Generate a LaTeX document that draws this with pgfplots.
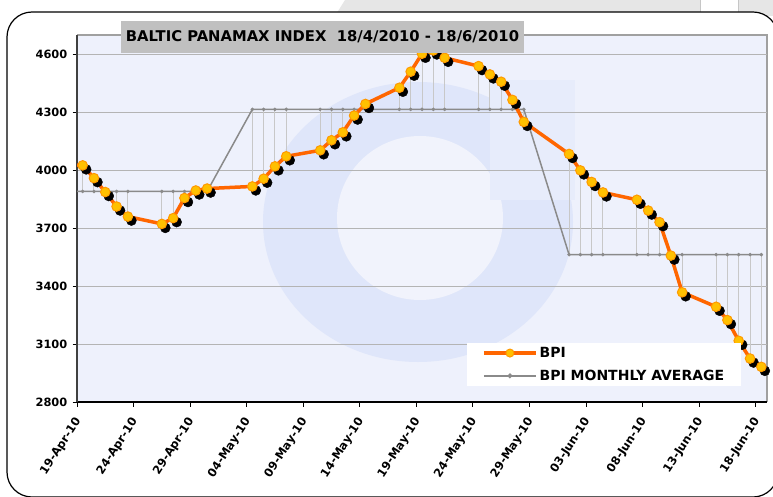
\documentclass[border=0pt]{standalone}
\usepackage{fontspec}
\setmainfont{DejaVu Sans}
\usepackage{pgfplots}
\pgfplotsset{compat=1.18}
\usepackage{pgfplotstable}

\definecolor{bgplot}{HTML}{EEF1FC}
\definecolor{wm}{HTML}{DFE6FA}
\definecolor{wminner}{HTML}{F1F3FC}
\definecolor{bpiline}{HTML}{FF6600}
\definecolor{bpifill}{HTML}{FFC000}
\definecolor{bpiedge}{HTML}{FF9900}
\definecolor{avgline}{HTML}{8A8A8A}
\definecolor{hl}{HTML}{C8C8C8}
\definecolor{gridc}{HTML}{B4B4B4}
\definecolor{pagegrey}{HTML}{E6E6E6}
\definecolor{titlegrey}{HTML}{C0C0C0}
\definecolor{borderg}{HTML}{A0A0A0}

\pgfplotstableread{
x bpi avg
-2.5 4035 3890
0.5 4025 3890
1.5 3959 3890
2.5 3887 3890
3.5 3812 3890
4.5 3760 3890
7.5 3722 3890
8.5 3752 3890
9.5 3856 3890
10.5 3895 3890
11.5 3905 3890
15.5 3916 4315
16.5 3956 4315
17.5 4020 4315
18.5 4072 4315
21.5 4103 4315
22.5 4155 4315
23.5 4196 4315
24.5 4283 4315
25.5 4343 4315
28.5 4427 4315
29.5 4510 4315
30.5 4603 4315
31.5 4620 4315
32.5 4582 4315
35.5 4539 4315
36.5 4496 4315
37.5 4458 4315
38.5 4364 4315
39.5 4250 4315
43.5 4084 3563
44.5 3999 3563
45.5 3939 3563
46.5 3885 3563
49.5 3847 3563
50.5 3791 3563
51.5 3731 3563
52.5 3558 3563
53.5 3368 3563
56.5 3293 3563
57.5 3224 3563
58.5 3117 3563
59.5 3025 3563
60.5 2982 3563
}\data

\begin{document}
\begin{tikzpicture}[x=1pt,y=1pt]
\useasboundingbox (0,0) rectangle (773,496);
\fill[white] (0,0) rectangle (773,496);
\fill[pagegrey] (345,496) -- (773,496) -- (773,480) -- (335,480) -- cycle;
\fill[white] (700,496) rectangle (738,480);
\draw[borderg!60, line width=0.8pt] (700,496) -- (700,480) (738,496) -- (738,480);
\filldraw[fill=white, draw=black, line width=1.2pt, rounded corners=25pt] (7,-1) rectangle (778,484);
\fill[bgplot] (77,94) rectangle (767,461);
\begin{scope}
\clip (77,94) rectangle (767,461);
\fill[wm] (418,274) ellipse (155 and 140);
\fill[wminner] (420,278) ellipse (83 and 82);
\fill[wm!45!bgplot] (490,296) rectangle (575,416);
\end{scope}
\draw[borderg, line width=2pt] (77,461) -- (767,461) -- (767,94);
\begin{axis}[
  at={(77pt,94pt)}, anchor=south west, scale only axis,
  width=690pt, height=367pt,
  xmin=0, xmax=61, ymin=2800, ymax=4700,
  axis x line*=bottom, axis y line*=left,
  axis line style={-},
  x axis line style={black, line width=1.5pt},
  y axis line style={black!75, line width=2pt},
  xtick={0,5,...,60},
  xticklabels={19-Apr-10,24-Apr-10,29-Apr-10,04-May-10,09-May-10,14-May-10,19-May-10,24-May-10,29-May-10,03-Jun-10,08-Jun-10,13-Jun-10,18-Jun-10},
  ytick={2800,3100,3400,3700,4000,4300,4600},
  ymajorgrids, grid style={gridc, line width=1pt},
  tick align=outside, major tick length=4.5pt,
  tick style={black, line width=1pt},
  /pgf/number format/assume math mode=true,
  /pgf/number format/set thousands separator={},
  yticklabel style={font=\fontsize{11.4}{13}\selectfont\bfseries, inner sep=2pt, xshift=-3pt},
  xticklabel style={xshift=2pt, yshift=-12pt, rotate=57, anchor=east, font=\fontsize{11.5}{13}\selectfont\bfseries, inner sep=1pt},
  clip=true,
  legend image code/.code={\draw[mark repeat=2,mark phase=2,#1] plot coordinates {(0pt,0pt) (26pt,0pt) (52pt,0pt)};},
  legend style={at={(0.5652,0.1608)}, anchor=north west, draw=none, fill=white,
    inner xsep=15pt, inner ysep=2pt, font=\fontsize{14}{15}\selectfont\bfseries,
    cells={anchor=west}, row sep=7pt},
]
\addplot[draw=none, mark=none, forget plot,
  error bars/.cd, y dir=both, y explicit, error mark=none,
  error bar style={hl, line width=1pt}]
  table[x=x, y expr={(\thisrow{bpi}+\thisrow{avg})/2}, y error expr={abs(\thisrow{bpi}-\thisrow{avg})/2}] \data;
\addplot[avgline, line width=1.5pt, mark=none, forget plot] table[x=x, y=avg] \data;
\addplot[only marks, mark=*, mark size=1.6pt, avgline, forget plot,
  skip coords between index={0}{1}] table[x=x, y=avg] \data;
\addplot[only marks, mark=*, mark size=5pt, black, forget plot,
  mark options={xshift=3.5pt, yshift=-4pt},
  skip coords between index={0}{1}] table[x=x, y=bpi] \data;
\addplot[bpiline, line width=3.5pt, mark=none, forget plot] table[x=x, y=bpi] \data;
\addplot[only marks, mark=*, mark size=4.8pt, forget plot,
  mark options={fill=bpifill, draw=bpiedge, line width=1pt},
  skip coords between index={0}{1}] table[x=x, y=bpi] \data;
\addlegendimage{bpiline, line width=3.5pt, mark=*, mark size=4pt, mark options={fill=bpifill, draw=bpiedge, line width=1pt}}
\addlegendentry{BPI}
\addlegendimage{avgline, line width=1.5pt, mark=*, mark size=1.6pt}
\addlegendentry{BPI MONTHLY AVERAGE}
\end{axis}
\node[fill=titlegrey, minimum width=403pt, minimum height=32pt, inner sep=0pt,
  font=\fontsize{14.8}{16}\selectfont\bfseries] at (322.5,459)
  {BALTIC PANAMAX INDEX\ \ 18/4/2010 - 18/6/2010};
\end{tikzpicture}
\end{document}
